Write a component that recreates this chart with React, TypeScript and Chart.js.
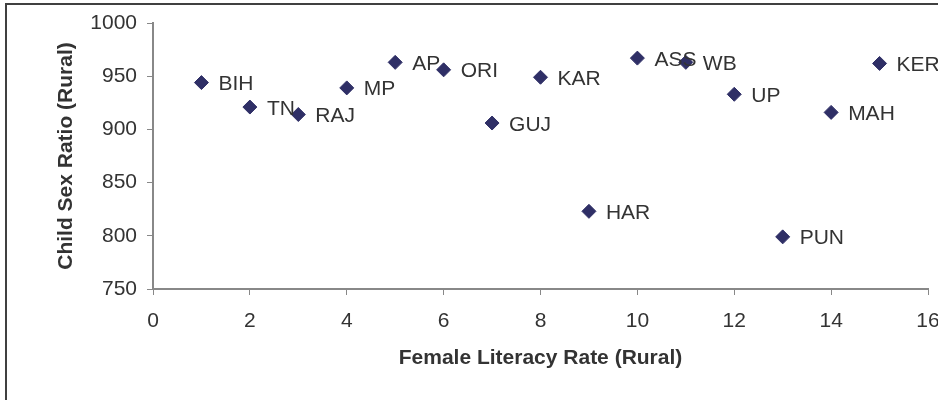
import React, { useEffect, useRef } from "react";
import { Chart, registerables } from "chart.js";

Chart.register(...registerables);

const states = ["BIH", "TN", "RAJ", "MP", "AP", "ORI", "GUJ", "KAR", "HAR", "ASS", "WB", "UP", "PUN", "MAH", "KER"];
const literacyRank = [1, 2, 3, 4, 5, 6, 7, 8, 9, 10, 11, 12, 13, 14, 15];
const childSexRatio = [944, 921, 914, 939, 963, 956, 906, 949, 823, 967, 963, 933, 799, 916, 962];
const xTitle = "Female Literacy Rate (Rural)";
const yTitle = "Child Sex Ratio (Rural)";

const FONT = "'Liberation Sans', Arial, sans-serif";

export default function App() {
  const ref = useRef<HTMLCanvasElement>(null);
  useEffect(() => {
    const canvas = ref.current!;
    const overlay = {
      id: "overlay",
      afterDraw(chart: any) {
        const ctx = chart.ctx;
        const area = chart.chartArea;
        ctx.save();
        // outer frame
        ctx.strokeStyle = "#404040";
        ctx.lineWidth = 2;
        ctx.beginPath();
        ctx.moveTo(6, 1000);
        ctx.lineTo(6, 4);
        ctx.lineTo(1000, 4);
        ctx.stroke();
        // point labels
        const meta = chart.getDatasetMeta(0);
        ctx.fillStyle = "#333333";
        ctx.font = `21px ${FONT}`;
        ctx.textAlign = "left";
        ctx.textBaseline = "alphabetic";
        meta.data.forEach((pt: any, i: number) => {
          ctx.fillText(states[i], pt.x + 17, pt.y + 7.5);
        });
        // axis titles
        ctx.font = `bold 21px ${FONT}`;
        ctx.textAlign = "center";
        ctx.textBaseline = "middle";
        ctx.fillText(xTitle, (area.left + area.right) / 2, 358);
        ctx.translate(66, (area.top + area.bottom) / 2);
        ctx.rotate(-Math.PI / 2);
        ctx.fillText(yTitle, 0, 0);
        ctx.restore();
      },
    };
    const chart = new Chart(canvas, {
      type: "scatter",
      data: {
        datasets: [
          {
            data: literacyRank.map((x, i) => ({ x, y: childSexRatio[i] })),
            pointStyle: "rectRot",
            pointRadius: 7,
            pointHoverRadius: 7,
            backgroundColor: "#2f2f66",
            borderColor: "#2f2f66",
            borderWidth: 1,
          },
        ],
      },
      options: {
        responsive: false,
        animation: false,
        layout: { padding: { top: 23, right: 10, left: 0, bottom: 0 } },
        plugins: { legend: { display: false }, tooltip: { enabled: false } },
        scales: {
          x: {
            type: "linear",
            min: 0,
            max: 16,
            ticks: { stepSize: 2, color: "#333333", font: { family: FONT, size: 21 }, padding: 14, callback: (v: any) => String(v) },
            grid: { drawOnChartArea: false, drawTicks: true, tickLength: 6, color: "#888888" },
            border: { color: "#888888", width: 2 },
            afterFit(scale: any) {
              scale.height = 111;
              scale.paddingRight = 0;
              scale.paddingLeft = 0;
            },
          },
          y: {
            type: "linear",
            min: 750,
            max: 1000,
            ticks: { stepSize: 50, color: "#333333", font: { family: FONT, size: 21 }, padding: 10, callback: (v: any) => String(v) },
            grid: { drawOnChartArea: false, drawTicks: true, tickLength: 6, color: "#888888" },
            border: { color: "#888888", width: 2 },
            afterFit(scale: any) {
              scale.width = 153;
              scale.paddingTop = 0;
              scale.paddingBottom = 0;
            },
          },
        },
      },
      plugins: [overlay],
    });
    return () => chart.destroy();
  }, []);
  return (
    <div style={{ position: "fixed", left: 0, top: 0, width: 938, height: 400, background: "#fff" }}>
      <canvas ref={ref} width={938} height={400} style={{ display: "block" }} />
    </div>
  );
}
